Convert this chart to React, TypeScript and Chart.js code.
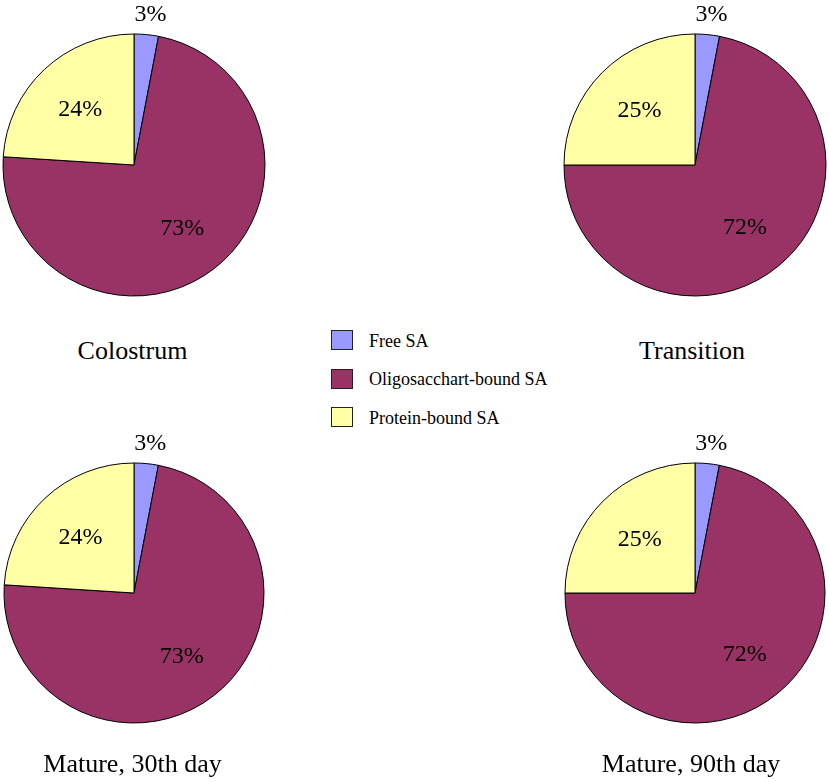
import React, { useEffect, useRef } from "react";
import { Chart, registerables } from "chart.js";

Chart.register(...registerables);

const categories = ["Free SA", "Oligosacchart-bound SA", "Protein-bound SA"];
const colostrumValues = [3, 73, 24];
const transitionValues = [3, 72, 25];
const mature30Values = [3, 73, 24];
const mature90Values = [3, 72, 25];
const stageTitles = ["Colostrum", "Transition", "Mature, 30th day", "Mature, 90th day"];
const sliceColors = ["#9999FF", "#993366", "#FFFFA6"];

const FONT = "\"Liberation Serif\", \"Times New Roman\", serif";
const CW = 300;
const CH = 330;

const labelPlugin = {
  id: "pctLabels",
  afterDatasetsDraw(chart: any) {
    const ctx = chart.ctx;
    const meta = chart.getDatasetMeta(0);
    const data = chart.data.datasets[0].data as number[];
    ctx.save();
    ctx.font = `24px ${FONT}`;
    ctx.fillStyle = "#000";
    ctx.textAlign = "center";
    ctx.textBaseline = "alphabetic";
    meta.data.forEach((arc: any, i: number) => {
      const p = arc.getProps(["x", "y", "startAngle", "endAngle", "outerRadius"], true);
      const mid = (p.startAngle + p.endAngle) / 2;
      const v = data[i];
      const r = v < 5 ? p.outerRadius + 22 : p.outerRadius * 0.6;
      const x = p.x + Math.cos(mid) * r + (v < 5 ? 2 : 0);
      const y = p.y + Math.sin(mid) * r;
      ctx.fillText(`${v}%`, x, y + 8);
    });
    ctx.restore();
  },
};

function Pie({ values, cx, cy, R }: { values: number[]; cx: number; cy: number; R: number }) {
  const ref = useRef<HTMLCanvasElement>(null);
  useEffect(() => {
    if (!ref.current) return;
    const padX = CW / 2 - R - 0.5;
    const padTop = 165 - R - 0.5;
    const padBottom = CH - 165 - R - 0.5;
    const chart = new Chart(ref.current, {
      type: "pie",
      data: {
        labels: categories,
        datasets: [
          {
            data: values,
            backgroundColor: sliceColors,
            borderColor: "#000000",
            borderWidth: 1,
            hoverBorderWidth: 1,
            hoverOffset: 0,
            offset: 0,
          },
        ],
      },
      options: {
        responsive: false,
        animation: false,
        events: [],
        layout: { padding: { left: padX, right: padX, top: padTop, bottom: padBottom } },
        plugins: {
          legend: { display: false },
          tooltip: { enabled: false },
          title: { display: false },
        },
      },
      plugins: [labelPlugin],
    });
    return () => {
      chart.destroy();
    };
  }, [values, R]);
  return (
    <canvas
      ref={ref}
      width={CW}
      height={CH}
      style={{ position: "absolute", left: cx - CW / 2, top: cy - 165, width: CW, height: CH }}
    />
  );
}

function Title({ text, cx, baseline }: { text: string; cx: number; baseline: number }) {
  const size = 26;
  return (
    <div
      style={{
        position: "absolute",
        left: cx - 150,
        width: 300,
        top: baseline - 0.8375 * size,
        fontFamily: FONT,
        fontSize: size,
        lineHeight: `${size}px`,
        textAlign: "center",
        color: "#000",
        whiteSpace: "nowrap",
      }}
    >
      {text}
    </div>
  );
}

const legendBaselines = [347, 385.5, 424];

export default function App() {
  return (
    <div
      style={{
        position: "absolute",
        left: 0,
        top: 0,
        width: 829,
        height: 782,
        overflow: "hidden",
        background: "#fff",
        fontFamily: FONT,
      }}
    >
      <Pie values={colostrumValues} cx={134} cy={165} R={131} />
      <Pie values={transitionValues} cx={695} cy={165} R={131} />
      <Pie values={mature30Values} cx={134} cy={593} R={130} />
      <Pie values={mature90Values} cx={695} cy={593} R={130} />
      <Title text={stageTitles[0]} cx={132.5} baseline={360} />
      <Title text={stageTitles[1]} cx={692} baseline={360} />
      <Title text={stageTitles[2]} cx={132.5} baseline={773} />
      <Title text={stageTitles[3]} cx={691} baseline={773} />
      {categories.map((c, i) => (
        <React.Fragment key={c}>
          <div
            style={{
              position: "absolute",
              left: 331,
              top: legendBaselines[i] - 17,
              width: 20,
              height: 18,
              background: sliceColors[i],
              border: "1px solid #222",
            }}
          />
          <div
            style={{
              position: "absolute",
              left: 369,
              top: legendBaselines[i] - 0.8375 * 18,
              fontFamily: FONT,
              fontSize: 18,
              lineHeight: "18px",
              color: "#000",
              whiteSpace: "nowrap",
            }}
          >
            {c}
          </div>
        </React.Fragment>
      ))}
    </div>
  );
}
